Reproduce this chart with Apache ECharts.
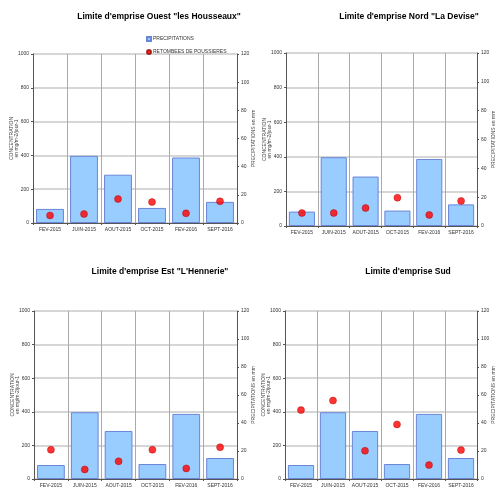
<!DOCTYPE html>
<html lang="fr">
<head>
  <meta charset="UTF-8">
  <script src="https://cdn.jsdelivr.net/npm/echarts@6/dist/echarts.min.js"></script>
  <style>
    * { margin: 0; padding: 0; }
    html, body { width: 100%; height: 100%; background: #fff; }
    #chartbox { width: 497px; height: 488px; }
  </style>
</head>
<body>
<div id="chartbox"></div>
<script>
  // donnees
  const months = ['FEV-2015', 'JUIN-2015', 'AOUT-2015', 'OCT-2015', 'FEV-2016', 'SEPT-2016'];
  const precipitations = [10, 47.7, 34.3, 10.7, 46.5, 15];
  const retombeesOuest = [45, 53, 142, 124, 57, 128];
  const retombeesNord = [75, 75, 104, 164, 64, 145];
  const retombeesEst = [174, 57, 105, 174, 63, 189];
  const retombeesSud = [410, 467, 168, 325, 83, 172];
  const titles = [
    'Limite d\'emprise Ouest "les Housseaux"',
    'Limite d\'emprise Nord "La Devise"',
    'Limite d\'emprise Est "L\'Hennerie"',
    'Limite d\'emprise Sud'
  ];
  const retombees = [retombeesOuest, retombeesNord, retombeesEst, retombeesSud];

  const FONT = 'Liberation Sans';
  // positions des graphiques
  const grids = [
    {left: 33, top: 54, width: 204, height: 169},
    {left: 286, top: 53, width: 194, height: 173},
    {left: 34, top: 311, width: 203, height: 169},
    {left: 285, top: 311, width: 196, height: 169}
  ];
  const titlePos = [[159, 12], [409, 12], [160, 267], [408, 267]];

  let myChart = echarts.init(document.getElementById('chartbox'));
  let option = {
    backgroundColor: '#fff',
    animation: false,
    textStyle: {fontFamily: FONT},
    title: [],
    legend: {
      orient: 'vertical',
      left: 146,
      top: 36,
      padding: 0,
      itemWidth: 4,
      itemHeight: 4,
      itemGap: 7,
      textStyle: {fontSize: 5, color: '#333', fontFamily: FONT, padding: [0, 0, 0, -3]},
      data: [
        {name: 'PRECIPITATIONS', icon: 'rect'},
        {name: 'RETOMBEES DE POUSSIERES', icon: 'circle'}
      ]
    },
    grid: [],
    xAxis: [],
    yAxis: [],
    series: []
  };

  for (let i = 0; i < 4; i++) {
    option.title.push({
      text: titles[i],
      left: titlePos[i][0],
      top: titlePos[i][1],
      padding: 0,
      textAlign: 'center',
      textStyle: {fontSize: 8.5, fontWeight: 'bold', color: '#000', fontFamily: FONT}
    });
    option.grid.push(Object.assign({containLabel: false}, grids[i]));
    option.xAxis.push({
      type: 'category',
      gridIndex: i,
      data: months,
      axisLine: {lineStyle: {color: '#555'}},
      axisTick: {show: true, length: 2, lineStyle: {color: '#555'}},
      axisLabel: {interval: 0, fontSize: 5, color: '#333', margin: 4},
      splitLine: {show: true, lineStyle: {color: '#aaa', width: 1}}
    });
    // axe gauche : concentration
    option.yAxis.push({
      type: 'value',
      gridIndex: i,
      min: 0,
      max: 1000,
      interval: 200,
      name: 'CONCENTRATION\nen mg/m-2/jour-1',
      nameLocation: 'middle',
      nameRotate: 90,
      nameGap: 14,
      nameMoveOverlap: false,
      nameTextStyle: {fontSize: 5, color: '#444', lineHeight: 5},
      axisLine: {show: true, lineStyle: {color: '#555'}},
      axisTick: {show: true, length: 2, lineStyle: {color: '#555'}},
      axisLabel: {fontSize: 5, color: '#333', margin: 4, formatter: v => String(v)},
      splitLine: {show: true, lineStyle: {color: '#c8c8c8', width: 1.5}}
    });
    // axe droit : precipitations
    option.yAxis.push({
      type: 'value',
      gridIndex: i,
      position: 'right',
      min: 0,
      max: 120,
      interval: 20,
      name: 'PRECIPITATIONS en mm',
      nameLocation: 'middle',
      nameRotate: 90,
      nameGap: 14,
      nameMoveOverlap: false,
      nameTextStyle: {fontSize: 5, color: '#444'},
      axisLine: {show: true, lineStyle: {color: '#555'}},
      axisTick: {show: true, length: 2, lineStyle: {color: '#555'}},
      axisLabel: {fontSize: 5, color: '#333', margin: 4},
      splitLine: {show: false}
    });
    option.series.push({
      name: 'PRECIPITATIONS',
      type: 'bar',
      xAxisIndex: i,
      yAxisIndex: i * 2 + 1,
      barCategoryGap: '18%',
      itemStyle: {color: '#99ccff', borderColor: '#6a86d8', borderWidth: 1},
      data: precipitations
    });
    option.series.push({
      name: 'RETOMBEES DE POUSSIERES',
      type: 'scatter',
      xAxisIndex: i,
      yAxisIndex: i * 2,
      symbol: 'circle',
      symbolSize: 7,
      itemStyle: {color: '#ff0000', borderColor: '#a00000', borderWidth: 0.5},
      data: retombees[i]
    });
  }
  myChart.setOption(option);
</script>
</body>
</html>
